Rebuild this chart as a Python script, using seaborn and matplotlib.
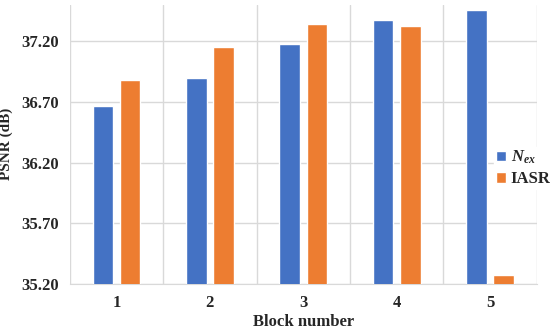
import matplotlib
matplotlib.use("Agg")
import matplotlib.pyplot as plt
import seaborn as sns
import pandas as pd
import numpy as np

blocks = ["1", "2", "3", "4", "5"]
nex_psnr = [36.67, 36.90, 37.18, 37.38, 37.46]
iasr_psnr = [36.88, 37.15, 37.34, 37.33, 35.27]
series_names = [r"$N_{ex}$", "IASR"]
y_ticks = [35.20, 35.70, 36.20, 36.70, 37.20]


def main():
    sns.set_style("white")
    plt.rcParams["font.family"] = ["Liberation Serif", "DejaVu Serif"]
    plt.rcParams["font.weight"] = "bold"
    plt.rcParams["mathtext.fontset"] = "custom"
    plt.rcParams["mathtext.it"] = "Liberation Serif:style=italic:weight=bold"
    plt.rcParams["mathtext.rm"] = "Liberation Serif:weight=bold"

    df = pd.DataFrame({
        "block": blocks * 2,
        "psnr": nex_psnr + iasr_psnr,
        "series": [series_names[0]] * len(blocks) + [series_names[1]] * len(blocks),
    })

    fig = plt.figure(figsize=(5.5, 3.32), dpi=100)
    ax = fig.add_axes([0.127, 0.1455, 0.849, 0.8395])
    sns.barplot(data=df, x="block", y="psnr", hue="series",
                palette=["#4472C4", "#ED7D31"], saturation=1,
                width=0.58, gap=0.24, ax=ax, zorder=3)

    ax.set_ylim(35.2, 37.5)
    ax.set_xlim(-0.5, len(blocks) - 0.5)
    ax.set_yticks(y_ticks)
    ax.set_yticklabels([f"{v:.2f}" for v in y_ticks], fontsize=12, fontweight="bold")
    ax.set_xticks(range(len(blocks)))
    ax.set_xticklabels(blocks, fontsize=12, fontweight="bold")
    ax.tick_params(axis="both", length=0, pad=8)

    ax.set_xticks(np.arange(-0.5, len(blocks)), minor=True)
    ax.grid(axis="y", which="major", color="#D9D9D9", linewidth=1, zorder=0)
    ax.grid(axis="x", which="minor", color="#D9D9D9", linewidth=1, zorder=0)
    ax.tick_params(which="minor", length=0)

    for side in ["top", "right", "left"]:
        ax.spines[side].set_visible(False)
    ax.spines["bottom"].set_color("#D9D9D9")

    ax.set_xlabel("Block number", fontsize=12, fontweight="bold", labelpad=2)
    ax.set_ylabel("PSNR (dB)", fontsize=11, fontweight="bold", labelpad=6)

    leg = ax.legend(loc="center left", bbox_to_anchor=(494 / 550, 1 - 168 / 332),
                    bbox_transform=fig.transFigure, frameon=True,
                    fontsize=12, handlelength=0.6, handleheight=0.6,
                    handletextpad=0.3, borderpad=0.1, borderaxespad=0,
                    labelspacing=0.3)
    leg.get_frame().set_edgecolor("white")
    leg.get_frame().set_alpha(1)

    fig.savefig("out.png", dpi=100)
    plt.close(fig)


if __name__ == "__main__":
    main()
